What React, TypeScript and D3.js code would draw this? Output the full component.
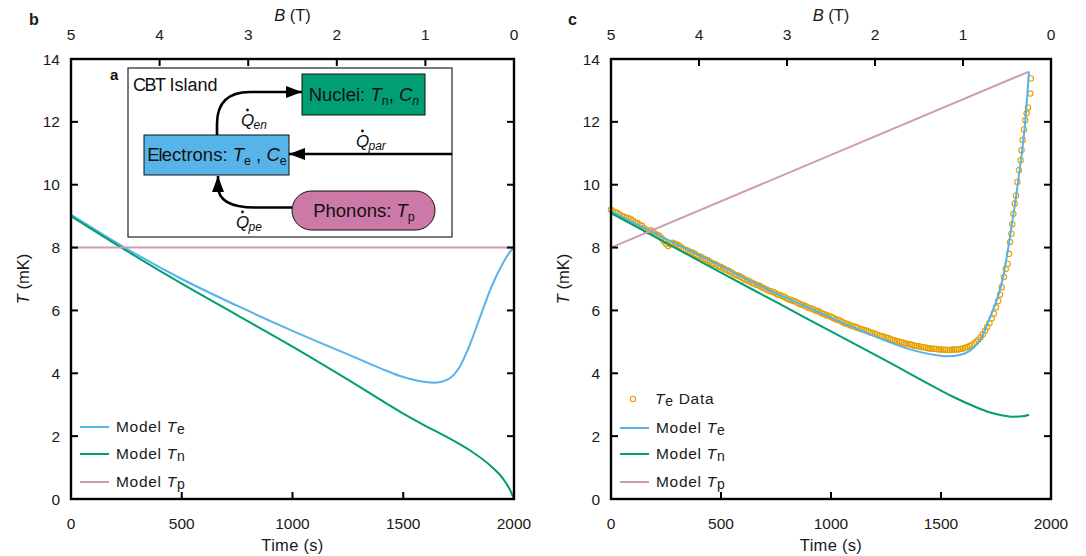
import React from 'react';
import * as d3 from 'd3';

// ---------- data ----------
const timeTicks = [0, 500, 1000, 1500, 2000];
const tempTicks = [0, 2, 4, 6, 8, 10, 12, 14];
const fieldTicks = [5, 4, 3, 2, 1, 0];

// panel b (model only)
const bModelTe: [number, number][] = [
  [0, 9.05], [250, 7.97], [500, 7.0], [750, 6.15], [1000, 5.35], [1250, 4.6], [1400, 4.15],
  [1500, 3.88], [1600, 3.72], [1640, 3.7], [1700, 3.8], [1750, 4.15], [1800, 4.9],
  [1850, 5.85], [1900, 6.78], [1950, 7.5], [1980, 7.85], [2000, 8.0],
];
const bModelTn: [number, number][] = [
  [0, 9.0], [250, 7.9], [500, 6.85], [750, 5.85], [1000, 4.85], [1250, 3.8], [1500, 2.72],
  [1600, 2.33], [1700, 1.96], [1800, 1.55], [1900, 1.02], [1950, 0.65], [1980, 0.32], [2000, 0.0],
];
const bModelTp: [number, number][] = [[0, 8.0], [2000, 8.0]];

// panel c
const cModelTe: [number, number][] = [
  [0, 9.15], [250, 8.28], [500, 7.41], [677, 6.78], [900, 6.08], [1132, 5.37], [1250, 5.03],
  [1359, 4.76], [1450, 4.61], [1527, 4.54], [1586, 4.58], [1632, 4.72], [1680, 5.08],
  [1723, 5.77], [1782, 7.05], [1827, 8.96], [1859, 10.55], [1880, 11.8], [1900, 13.6],
];
const cModelTn: [number, number][] = [
  [0, 9.1], [250, 8.15], [500, 7.2], [750, 6.27], [1000, 5.33], [1250, 4.4], [1500, 3.45],
  [1550, 3.27], [1650, 2.95], [1720, 2.76], [1780, 2.66], [1830, 2.62], [1870, 2.63], [1900, 2.68],
];
const cModelTp: [number, number][] = [[0, 8.0], [1900, 13.6]];
const cData: [number, number][] = [
  [0, 9.2], [10, 9.15], [20, 9.12], [30, 9.1], [40, 9.05], [50, 9.0], [60, 8.98], [70, 8.95],
  [80, 8.93], [90, 8.9], [100, 8.85], [110, 8.8], [120, 8.78], [130, 8.72], [140, 8.7],
  [150, 8.62], [160, 8.55], [170, 8.52], [180, 8.55], [190, 8.5], [200, 8.45], [210, 8.4],
  [220, 8.38], [230, 8.3], [240, 8.2], [250, 8.12], [260, 8.05], [270, 8.1], [280, 8.15],
  [290, 8.12], [300, 8.1], [310, 8.05], [320, 8.0], [330, 7.95], [340, 7.92], [350, 7.9],
  [360, 7.85], [370, 7.84], [380, 7.8], [390, 7.75], [400, 7.72], [410, 7.7], [420, 7.65],
  [430, 7.62], [440, 7.6], [450, 7.55], [460, 7.5], [470, 7.48], [480, 7.45], [490, 7.4],
  [500, 7.38], [510, 7.34], [520, 7.3], [530, 7.28], [540, 7.24], [550, 7.2], [560, 7.15],
  [570, 7.12], [580, 7.1], [590, 7.06], [600, 7.02], [610, 6.98], [620, 6.95], [630, 6.92],
  [640, 6.88], [650, 6.85], [660, 6.82], [670, 6.8], [680, 6.76], [690, 6.72], [700, 6.68],
  [710, 6.66], [720, 6.62], [730, 6.6], [740, 6.58], [750, 6.54], [760, 6.5], [770, 6.48],
  [780, 6.45], [790, 6.42], [800, 6.38], [810, 6.35], [820, 6.32], [830, 6.3], [840, 6.28],
  [850, 6.24], [860, 6.2], [870, 6.18], [880, 6.15], [890, 6.12], [900, 6.08], [910, 6.06],
  [920, 6.03], [930, 6.0], [940, 5.98], [950, 5.94], [960, 5.9], [970, 5.88], [980, 5.85],
  [990, 5.82], [1000, 5.8], [1010, 5.76], [1020, 5.72], [1030, 5.7], [1040, 5.68], [1050, 5.64],
  [1060, 5.6], [1070, 5.58], [1080, 5.55], [1090, 5.52], [1100, 5.5], [1110, 5.48], [1120, 5.45],
  [1130, 5.42], [1140, 5.4], [1150, 5.38], [1160, 5.36], [1170, 5.33], [1180, 5.3], [1190, 5.28],
  [1200, 5.26], [1210, 5.23], [1220, 5.2], [1230, 5.18], [1240, 5.16], [1250, 5.14], [1260, 5.12],
  [1270, 5.09], [1280, 5.06], [1290, 5.04], [1300, 5.02], [1310, 5.0], [1320, 4.98], [1330, 4.97],
  [1340, 4.95], [1350, 4.93], [1360, 4.92], [1370, 4.9], [1380, 4.88], [1390, 4.87], [1400, 4.86],
  [1410, 4.84], [1420, 4.83], [1430, 4.82], [1440, 4.8], [1450, 4.79], [1460, 4.78], [1470, 4.78],
  [1480, 4.77], [1490, 4.76], [1500, 4.76], [1510, 4.75], [1520, 4.75], [1530, 4.74], [1540, 4.74],
  [1550, 4.75], [1560, 4.76], [1570, 4.76], [1580, 4.76], [1590, 4.78], [1600, 4.79], [1610, 4.81],
  [1620, 4.84], [1630, 4.87], [1640, 4.9], [1650, 4.95], [1660, 5.0], [1670, 5.07], [1680, 5.15],
  [1690, 5.24], [1700, 5.35], [1710, 5.47], [1720, 5.6], [1730, 5.74], [1740, 5.9], [1750, 6.1],
  [1760, 6.3], [1768, 6.5], [1776, 6.74], [1786, 7.06], [1794, 7.32], [1803, 7.48], [1809, 7.8],
  [1814, 8.18], [1820, 8.44], [1824, 8.74], [1829, 9.08], [1835, 9.4], [1841, 9.66], [1847, 10.09],
  [1854, 10.46], [1862, 10.78], [1866, 11.1], [1871, 11.42], [1877, 11.76], [1883, 12.05],
  [1889, 12.27], [1895, 12.46], [1906, 12.9], [1908, 13.38],
];

// ---------- style ----------
const C_TE = '#56B4E9';
const C_TN = '#009E73';
const C_TP = '#CF9BB4';
const C_DATA = '#E69F00';
const C_PH = '#CC79A7';
const FONT = '"Liberation Sans", Arial, Helvetica, sans-serif';
const TXT = '#1a1a1a';

const W = 1086;
const H = 556;
const Y0 = 59;
const Y1 = 499;
const TICK_FS = 15.5;
const LABEL_FS = 16.5;

type Scale = d3.ScaleLinear<number, number>;

function Frame({ x, y, b, letter, letterX }: { x: Scale; y: Scale; b: Scale; letter: string; letterX: number }) {
  const [x0, x1] = x.range();
  const tl = 7;
  const mid = (x0 + x1) / 2;
  return (
    <g fontFamily={FONT} fill={TXT}>
      {timeTicks.map((t) => (
        <g key={'t' + t}>
          {t > 0 && t < 2000 && <line x1={x(t)} x2={x(t)} y1={Y1} y2={Y1 - tl} stroke="#000" strokeWidth={2} />}
          <text x={x(t)} y={529} textAnchor="middle" fontSize={TICK_FS}>{t}</text>
        </g>
      ))}
      {tempTicks.map((v) => (
        <g key={'v' + v}>
          {v > 0 && v < 14 && (
            <>
              <line x1={x0} x2={x0 + tl} y1={y(v)} y2={y(v)} stroke="#000" strokeWidth={2} />
              <line x1={x1} x2={x1 - tl} y1={y(v)} y2={y(v)} stroke="#000" strokeWidth={2} />
            </>
          )}
          <text x={x0 - 11} y={y(v)} dy="0.36em" textAnchor="end" fontSize={TICK_FS}>{v}</text>
        </g>
      ))}
      {fieldTicks.map((f) => (
        <g key={'f' + f}>
          {f > 0 && f < 5 && <line x1={b(f)} x2={b(f)} y1={Y0} y2={Y0 + tl} stroke="#000" strokeWidth={2} />}
          <text x={b(f)} y={40} textAnchor="middle" fontSize={TICK_FS}>{f}</text>
        </g>
      ))}
      <rect x={x0} y={Y0} width={x1 - x0} height={Y1 - Y0} fill="none" stroke="#000" strokeWidth={2.4} />
      <text x={mid} y={21} textAnchor="middle" fontSize={LABEL_FS}>
        <tspan fontStyle="italic">B</tspan> (T)
      </text>
      <text x={mid} y={551} textAnchor="middle" fontSize={LABEL_FS} letterSpacing={0.3}>Time (s)</text>
      <text transform={`translate(${x0 - 42},${(Y0 + Y1) / 2}) rotate(-90)`} textAnchor="middle" fontSize={LABEL_FS}>
        <tspan fontStyle="italic">T</tspan> (mK)
      </text>
      <text x={letterX} y={25} fontSize={16} fontWeight="bold">{letter}</text>
    </g>
  );
}

function LegendLine({ x, y, color, sub }: { x: number; y: number; color: string; sub: string }) {
  return (
    <g>
      <line x1={x} x2={x + 29} y1={y} y2={y} stroke={color} strokeWidth={2} />
      <text x={x + 36} y={y + 5} fontSize={15.5} fontFamily={FONT} fill={TXT} letterSpacing={0.7}>
        Model <tspan fontStyle="italic">T</tspan>
        <tspan fontSize={14} dy={2}>{sub}</tspan>
      </text>
    </g>
  );
}

function QLabel({ x, y, sub }: { x: number; y: number; sub: string }) {
  return (
    <g fontFamily={FONT} fill="#111">
      <text x={x} y={y} fontSize={17} fontStyle="italic">Q</text>
      <circle cx={x + 6.5} cy={y - 16} r={1.4} fill="#111" />
      <text x={x + 12.5} y={y + 3} fontSize={12} fontStyle="italic">{sub}</text>
    </g>
  );
}

function Inset() {
  const boxFont = 18.5;
  return (
    <g fontFamily={FONT}>
      <defs>
        <marker id="ah" viewBox="0 0 16 12" refX={16} refY={6} markerWidth={16} markerHeight={12} markerUnits="userSpaceOnUse" orient="auto">
          <path d="M0,0 L16,6 L0,12 Z" fill="#000" />
        </marker>
      </defs>
      <rect x={128} y={68} width={324} height={169} fill="#fff" stroke="#222" strokeWidth={1.2} />
      <text x={110} y={80} fontSize={15} fontWeight="bold" fill="#111">a</text>
      <text x={133} y={91} fontSize={18} fill="#111">
        <tspan letterSpacing={-1.5}>CBT</tspan> Island
      </text>
      {/* Nuclei */}
      <rect x={302} y={74} width={123} height={41} fill={C_TN} stroke="#111" strokeWidth={1} />
      <text x={364} y={101} textAnchor="middle" fontSize={boxFont} fill="#111">
        Nuclei: <tspan fontStyle="italic">T</tspan><tspan fontSize={12.5} dy={4}>n</tspan>
        <tspan dy={-4}>, </tspan><tspan fontStyle="italic">C</tspan><tspan fontSize={12.5} dy={4} fontStyle="italic">n</tspan>
      </text>
      {/* Electrons */}
      <rect x={144} y={135} width={145} height={40} fill={C_TE} stroke="#111" strokeWidth={1} />
      <text x={217} y={161} textAnchor="middle" fontSize={boxFont} fill="#111">
        <tspan letterSpacing={-1}>El</tspan>ectrons: <tspan fontStyle="italic">T</tspan><tspan fontSize={12.5} dy={4}>e</tspan>
        <tspan dy={-4}> , </tspan><tspan fontStyle="italic">C</tspan><tspan fontSize={12.5} dy={4}>e</tspan>
      </text>
      {/* Phonons */}
      <rect x={292} y={191} width={143} height={39} rx={19.5} ry={19.5} fill={C_PH} stroke="#111" strokeWidth={1} />
      <text x={364} y={217} textAnchor="middle" fontSize={boxFont} fill="#111">
        Phonons: <tspan fontStyle="italic">T</tspan><tspan fontSize={12.5} dy={4}>p</tspan>
      </text>
      {/* arrows */}
      <path d="M217,135 L217,124 Q217,92 250,92 L302,92" fill="none" stroke="#000" strokeWidth={2.6} markerEnd="url(#ah)" />
      <path d="M452,154 L289,154" fill="none" stroke="#000" strokeWidth={2.6} markerEnd="url(#ah)" />
      <path d="M292,207.5 L255,207.5 Q218,207.5 218,186 L218,176" fill="none" stroke="#000" strokeWidth={2.6} markerEnd="url(#ah)" />
      <QLabel x={241} y={126} sub="en" />
      <QLabel x={356} y={147} sub="par" />
      <QLabel x={236} y={228} sub="pe" />
    </g>
  );
}

export default function App() {
  const xB = d3.scaleLinear().domain([0, 2000]).range([71, 514]);
  const xC = d3.scaleLinear().domain([0, 2000]).range([611, 1051]);
  const y = d3.scaleLinear().domain([0, 14]).range([Y1, Y0]);
  const bB = d3.scaleLinear().domain([5, 0]).range([71, 514]);
  const bC = d3.scaleLinear().domain([5, 0]).range([611, 1051]);

  const lineB = d3.line<[number, number]>().x((d) => xB(d[0])).y((d) => y(d[1])).curve(d3.curveMonotoneX);
  const lineC = d3.line<[number, number]>().x((d) => xC(d[0])).y((d) => y(d[1])).curve(d3.curveMonotoneX);

  return (
    <div style={{ position: 'absolute', left: 0, top: 0 }}>
      <svg width={W} height={H} viewBox={`0 0 ${W} ${H}`} style={{ display: 'block', background: '#fff' }}>
        {/* panel b */}
        <path d={lineB(bModelTe) || ''} fill="none" stroke={C_TE} strokeWidth={2} />
        <path d={lineB(bModelTn) || ''} fill="none" stroke={C_TN} strokeWidth={2} />
        <path d={lineB(bModelTp) || ''} fill="none" stroke={C_TP} strokeWidth={2} />
        <Inset />
        <Frame x={xB} y={y} b={bB} letter="b" letterX={29} />
        <LegendLine x={80} y={427} color={C_TE} sub="e" />
        <LegendLine x={80} y={454} color={C_TN} sub="n" />
        <LegendLine x={80} y={482} color={C_TP} sub="p" />

        {/* panel c */}
        <g>
          {cData.map((d, i) => (
            <circle key={i} cx={xC(d[0])} cy={y(d[1])} r={2.7} fill="none" stroke={C_DATA} strokeWidth={1.1} />
          ))}
        </g>
        <path d={lineC(cModelTe) || ''} fill="none" stroke={C_TE} strokeWidth={2} />
        <path d={lineC(cModelTn) || ''} fill="none" stroke={C_TN} strokeWidth={2} />
        <path d={lineC(cModelTp) || ''} fill="none" stroke={C_TP} strokeWidth={2} />
        <Frame x={xC} y={y} b={bC} letter="c" letterX={568} />
        <g>
          <circle cx={633} cy={399} r={2.7} fill="none" stroke={C_DATA} strokeWidth={1.1} />
          <text x={655} y={404} fontSize={15.5} fontFamily={FONT} fill={TXT} letterSpacing={0.7}>
            <tspan fontStyle="italic">T</tspan><tspan fontSize={14} dy={2}>e</tspan><tspan dy={-2}> Data</tspan>
          </text>
        </g>
        <LegendLine x={620} y={428} color={C_TE} sub="e" />
        <LegendLine x={620} y={454} color={C_TN} sub="n" />
        <LegendLine x={620} y={482} color={C_TP} sub="p" />
      </svg>
    </div>
  );
}
